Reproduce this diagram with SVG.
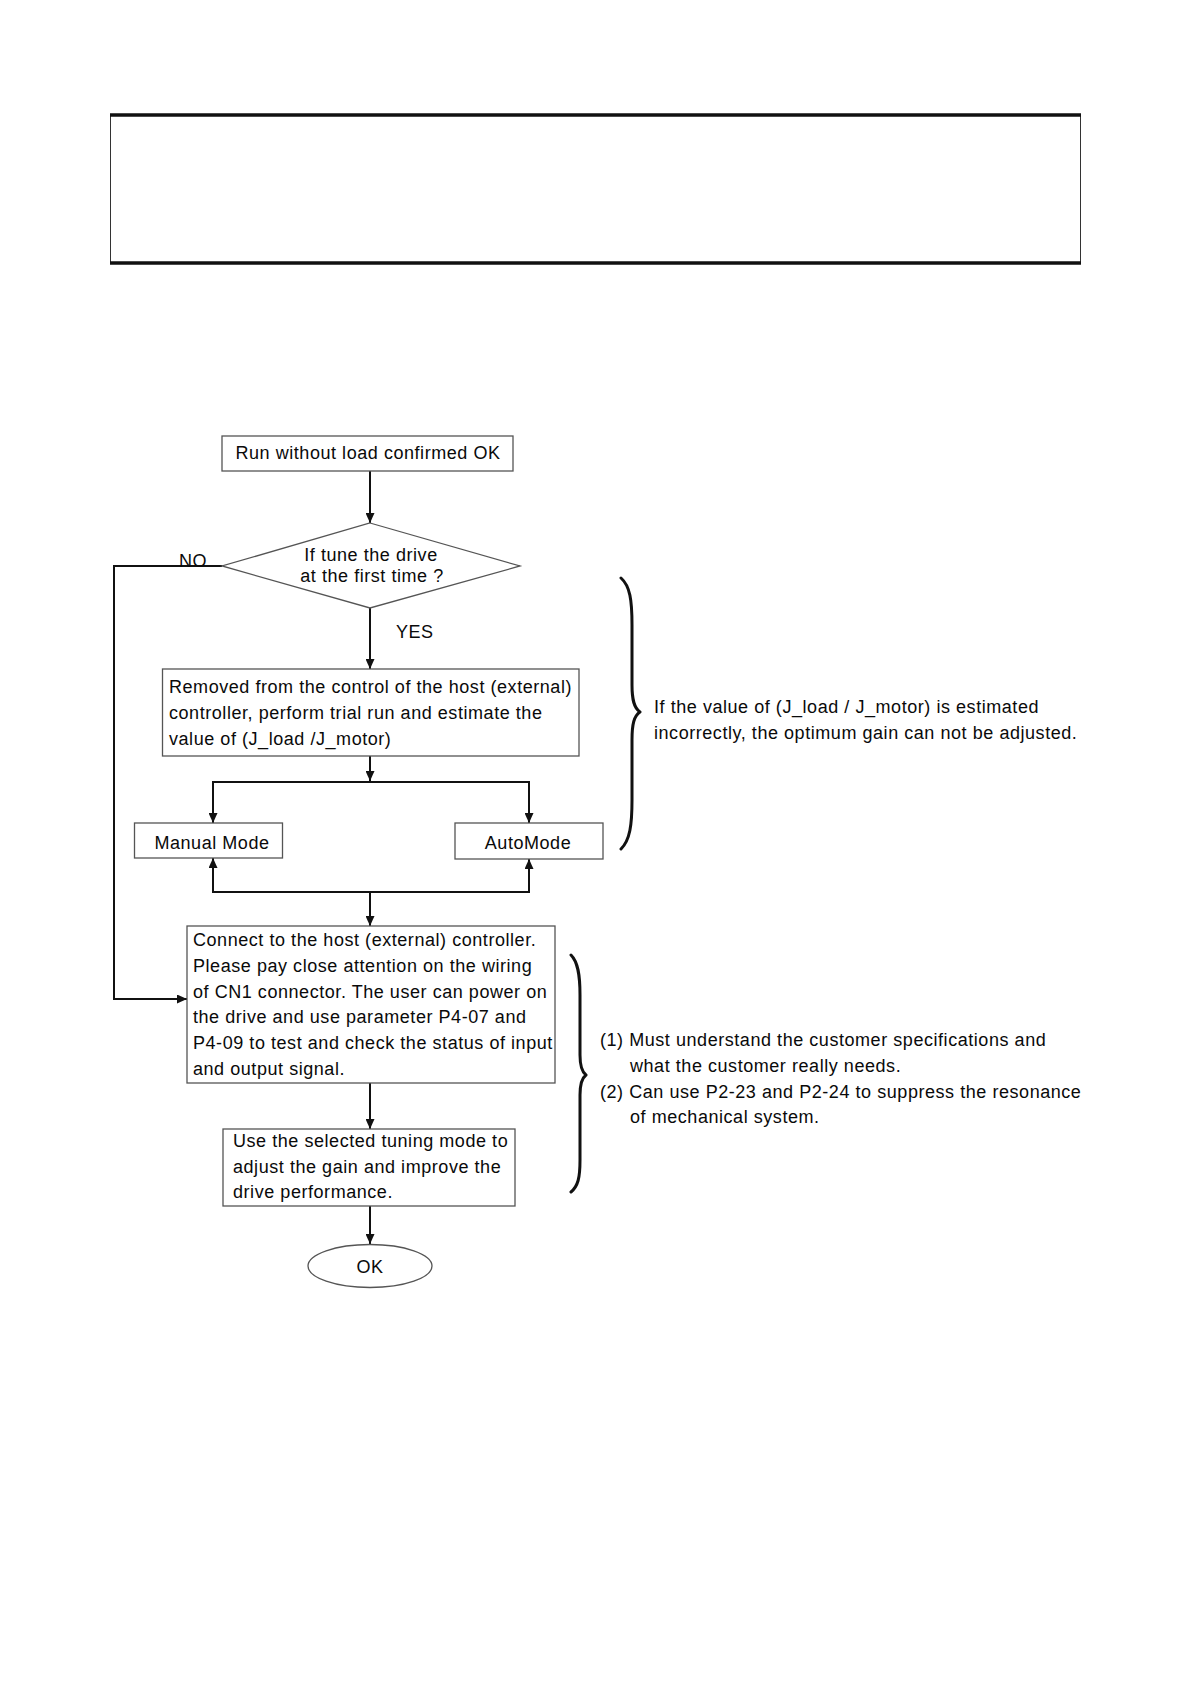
<svg xmlns="http://www.w3.org/2000/svg" width="1190" height="1684" viewBox="0 0 1190 1684">
<style>
.t{font-family:"Liberation Sans",Arial,Helvetica,sans-serif;font-size:18px;fill:#0a0a0a;letter-spacing:0.55px}
.c{text-anchor:middle}
.box{fill:#fff;stroke:#555;stroke-width:1.3}
.ln{fill:none;stroke:#111;stroke-width:2}
.br{fill:none;stroke:#111;stroke-width:3;stroke-linecap:round;stroke-linejoin:round}
</style>
<defs>
<marker id="ah" markerWidth="11" markerHeight="9" refX="10" refY="4.5" orient="auto" markerUnits="userSpaceOnUse">
<path d="M0,0 L10,4.5 L0,9 Z" fill="#111"/>
</marker>
</defs>
<rect width="1190" height="1684" fill="#fff"/>
<g id="header">
<rect x="110.5" y="115" width="970" height="148" fill="none" stroke="#333" stroke-width="1"/>
<line x1="110" y1="115" x2="1081" y2="115" stroke="#111" stroke-width="3.5"/>
<line x1="110" y1="263" x2="1081" y2="263" stroke="#111" stroke-width="3.5"/>
</g>
<g id="connectors">
<line class="ln" x1="370" y1="471" x2="370" y2="523" marker-end="url(#ah)"/>
<polyline class="ln" points="222,566 114,566 114,999 187,999" marker-end="url(#ah)"/>
<line class="ln" x1="370" y1="608" x2="370" y2="669" marker-end="url(#ah)"/>
<line class="ln" x1="370" y1="756" x2="370" y2="781" marker-end="url(#ah)"/>
<polyline class="ln" points="213,823 213,782 529,782 529,823"/>
<line class="ln" x1="213" y1="800" x2="213" y2="823" marker-end="url(#ah)"/>
<line class="ln" x1="529" y1="800" x2="529" y2="823" marker-end="url(#ah)"/>
<polyline class="ln" points="213,858 213,892 529,892 529,859"/>
<line class="ln" x1="213" y1="880" x2="213" y2="858" marker-end="url(#ah)"/>
<line class="ln" x1="529" y1="880" x2="529" y2="859" marker-end="url(#ah)"/>
<line class="ln" x1="370" y1="892" x2="370" y2="926" marker-end="url(#ah)"/>
<line class="ln" x1="370" y1="1083" x2="370" y2="1129" marker-end="url(#ah)"/>
<line class="ln" x1="370" y1="1206" x2="370" y2="1244" marker-end="url(#ah)"/>
<text class="t" x="179" y="567">NO</text>
<text class="t" x="396" y="638">YES</text>
</g>
<g id="start">
<rect class="box" x="222" y="436" width="291" height="35"/>
<text class="t c" x="368" y="459">Run without load confirmed OK</text>
</g>
<g id="decision">
<polygon class="box" points="370,523 520,566 370,608 222,566"/>
<text class="t c" x="371" y="561">If tune the drive</text>
<text class="t c" x="372" y="582">at the first time ?</text>
</g>
<g id="estimate">
<rect class="box" x="162.5" y="669" width="416.5" height="87"/>
<text class="t" x="169" y="693">Removed from the control of the host (external)</text>
<text class="t" x="169" y="719">controller, perform trial run and estimate the</text>
<text class="t" x="169" y="745">value of (J_load /J_motor)</text>
</g>
<g id="manual">
<rect class="box" x="134.5" y="823" width="148" height="35"/>
<text class="t c" x="212" y="849">Manual Mode</text>
</g>
<g id="auto">
<rect class="box" x="455" y="823" width="148" height="36"/>
<text class="t c" x="528" y="849">AutoMode</text>
</g>
<g id="connect">
<rect class="box" x="187" y="926" width="368" height="157"/>
<text class="t" x="193" y="946">Connect to the host (external) controller.</text>
<text class="t" x="193" y="972">Please pay close attention on the wiring</text>
<text class="t" x="193" y="997.5">of CN1 connector. The user can power on</text>
<text class="t" x="193" y="1023">the drive and use parameter P4-07 and</text>
<text class="t" x="193" y="1049">P4-09 to test and check the status of input</text>
<text class="t" x="193" y="1074.5">and output signal.</text>
</g>
<g id="tune">
<rect class="box" x="223" y="1129" width="292" height="77"/>
<text class="t" x="233" y="1147">Use the selected tuning mode to</text>
<text class="t" x="233" y="1172.5">adjust the gain and improve the</text>
<text class="t" x="233" y="1198">drive performance.</text>
</g>
<g id="ok">
<ellipse class="box" cx="370" cy="1266" rx="62" ry="21.5"/>
<text class="t c" x="370" y="1273">OK</text>
</g>
<g id="note1">
<path class="br" d="M621,578 C630,586 632,600 632,625 L632,685 C632,700 634,708 640,712 C634,716 632,724 632,740 L632,800 C632,825 630,840 621,849"/>
<text class="t" x="654" y="713">If the value of (J_load / J_motor) is estimated</text>
<text class="t" x="654" y="739">incorrectly, the optimum gain can not be adjusted.</text>
</g>
<g id="note2">
<path class="br" d="M571,955 C578,962 580,975 580,995 L580,1055 C580,1067 582,1072 586,1075 C582,1078 580,1083 580,1095 L580,1160 C580,1178 578,1186 571,1192"/>
<text class="t" x="600" y="1046">(1) Must understand the customer specifications and</text>
<text class="t" x="630" y="1072">what the customer really needs.</text>
<text class="t" x="600" y="1098">(2) Can use P2-23 and P2-24 to suppress the resonance</text>
<text class="t" x="630" y="1123">of mechanical system.</text>
</g>
</svg>
